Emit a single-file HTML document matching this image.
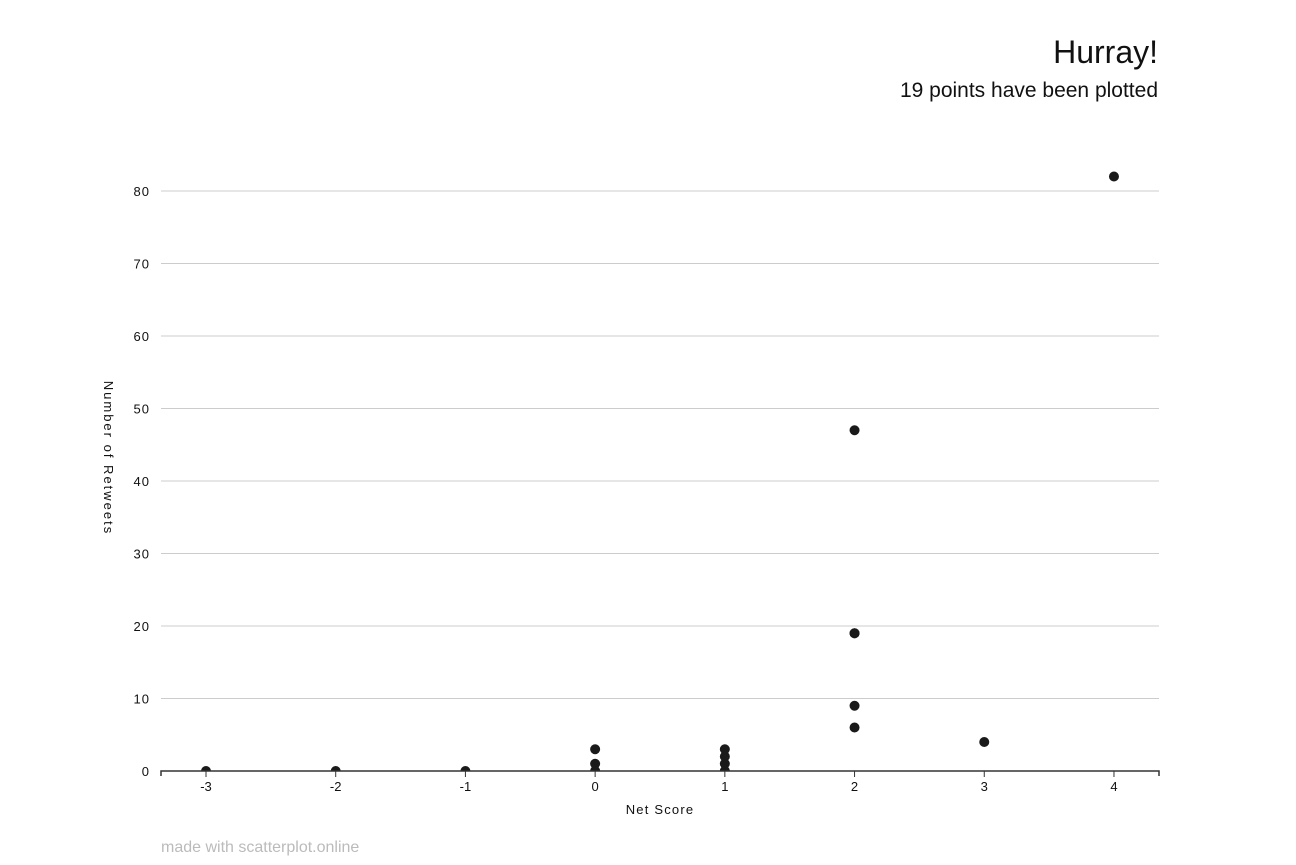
<!DOCTYPE html>
<html><head><meta charset="utf-8"><style>
body{margin:0;background:#fff;font-family:"Liberation Sans",sans-serif}
</style></head><body>
<svg width="1296" height="860" id="c">
<defs><clipPath id="plot"><rect x="161" y="100" width="998" height="671"/></clipPath></defs>
<text x="1158" y="63" text-anchor="end" font-size="32" fill="#111">Hurray!</text>
<text x="1158" y="97" text-anchor="end" font-size="21" fill="#111">19 points have been plotted</text>
<g id="grid"></g><g id="pts" clip-path="url(#plot)"></g><g id="axes"></g>
<text x="660" y="814" text-anchor="middle" font-size="13" letter-spacing="1.2" fill="#111">Net Score</text>
<text transform="translate(104,458) rotate(90)" text-anchor="middle" font-size="13" letter-spacing="2" fill="#111">Number of Retweets</text>
<text x="161" y="852" font-size="16" fill="#bbb">made with scatterplot.online</text>
</svg>
<script>
const xs=[-3,-2,-1,0,0,0,0,1,1,1,1,1,2,2,2,2,2,3,4];
const ys=[0,0,0,0,0,1,3,0,0,1,2,3,6,9,19,19,47,4,82];
const xTicks=[-3,-2,-1,0,1,2,3,4];
const yTicks=[0,10,20,30,40,50,60,70,80];
const X=v=>206+(v+3)*129.71, Y=v=>771-v*7.25;
const NS="http://www.w3.org/2000/svg";
function mk(p,t,a){const e=document.createElementNS(NS,t);for(const k in a)e.setAttribute(k,a[k]);document.getElementById(p).appendChild(e);return e;}
yTicks.forEach(v=>{
 if(v>0){const l=mk('grid','line',{x1:161,x2:1159,y1:Y(v),y2:Y(v),stroke:'#ccc'});
 
 }
 const t=mk('axes','text',{x:150,y:Y(v)+5,'text-anchor':'end','font-size':13,'letter-spacing':1,fill:'#111'});t.textContent=v;
 
 
});
const ax=mk('axes','path',{d:'M161,776V771H1159V776',stroke:'#333','stroke-width':1.5,fill:'none'});


xTicks.forEach(v=>{
 mk('axes','line',{x1:X(v),x2:X(v),y1:771,y2:777,stroke:'#333'});
 const t=mk('axes','text',{x:X(v),y:791,'text-anchor':'middle','font-size':13,fill:'#111'});t.textContent=v;
 
 
});
xs.forEach((v,i)=>{
 const c=mk('pts','circle',{cx:X(v),cy:Y(ys[i]),r:5,fill:'#1a1a1a'});
 
 
});
</script>
</body></html>
